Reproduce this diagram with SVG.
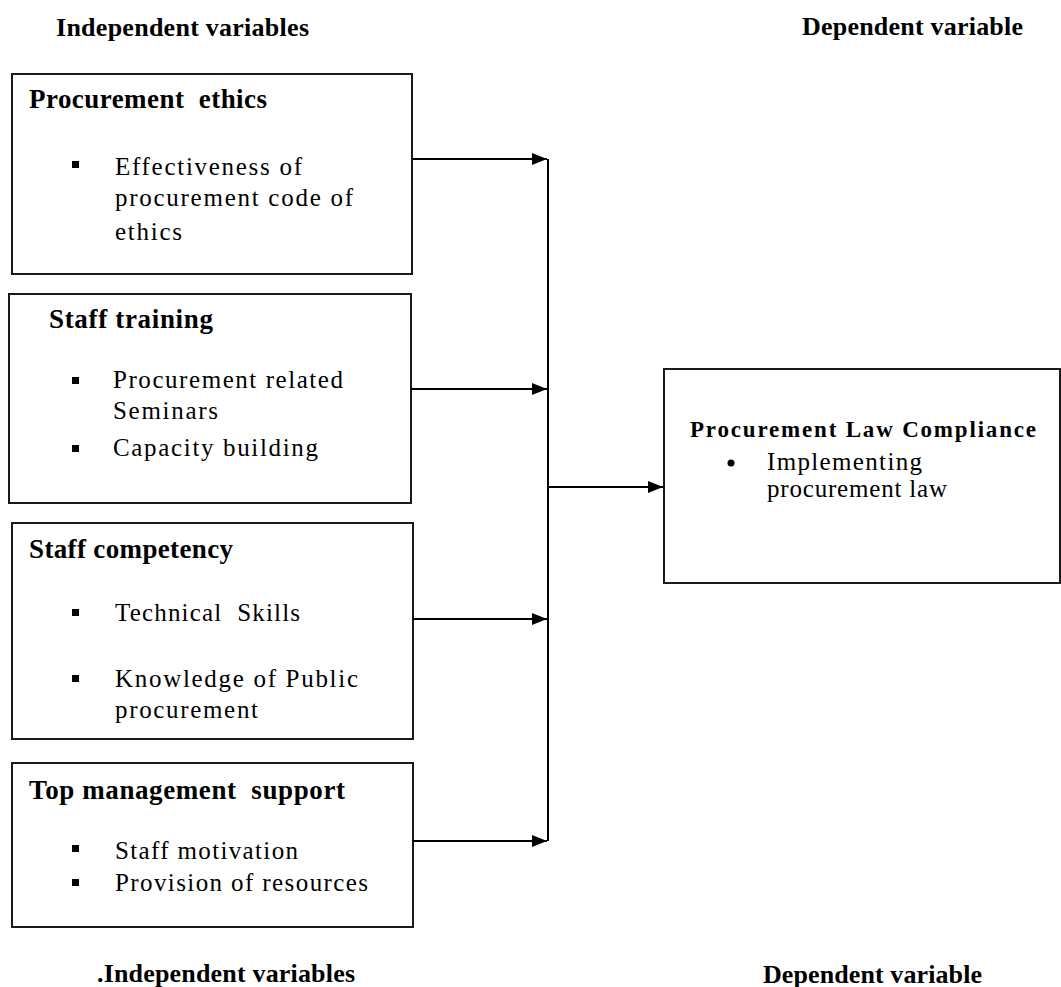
<svg xmlns="http://www.w3.org/2000/svg" width="1061" height="987" viewBox="0 0 1061 987">
<style>
.box{fill:#fff;stroke:#1a1a1a;stroke-width:2}
.hd{font-family:"Liberation Serif","Times New Roman",serif;font-weight:bold;font-size:26px;fill:#000}
.tt{font-family:"Liberation Serif","Times New Roman",serif;font-weight:bold;font-size:27px;fill:#000}
.tx{font-family:"Liberation Serif","Times New Roman",serif;font-size:25px;fill:#000}
.dt{font-family:"Liberation Serif","Times New Roman",serif;font-weight:bold;font-size:23px;fill:#000}
.sq{fill:#000}
.ln{stroke:#000;stroke-width:2;fill:none}
</style>
<defs>
<marker id="ah" markerWidth="15" markerHeight="12" refX="15" refY="6" orient="auto" markerUnits="userSpaceOnUse">
<path d="M0,0 L15,6 L0,12 Z" fill="#000"/>
</marker>
</defs>
<rect width="1061" height="987" fill="#fff"/>
<g id="labels">
<text class="hd" x="56" y="36" textLength="253">Independent variables</text>
<text class="hd" x="802" y="35" textLength="221">Dependent variable</text>
<text class="hd" x="97" y="982" textLength="258">.Independent variables</text>
<text class="hd" x="763" y="983" textLength="219">Dependent variable</text>
</g>
<g id="node-ethics">
<rect class="box" x="12" y="74" width="400" height="200"/>
<text class="tt" x="29" y="108" textLength="238" xml:space="preserve">Procurement  ethics</text>
<rect class="sq" x="72" y="161" width="7" height="7"/>
<text class="tx" x="115" y="175" textLength="187">Effectiveness of</text>
<text class="tx" x="115" y="206" textLength="238">procurement code of</text>
<text class="tx" x="115" y="240" textLength="67">ethics</text>
</g>
<g id="node-training">
<rect class="box" x="9" y="294" width="402" height="209"/>
<text class="tt" x="49" y="328" textLength="164">Staff training</text>
<rect class="sq" x="72" y="377" width="7" height="7"/>
<text class="tx" x="113" y="388" textLength="230">Procurement related</text>
<text class="tx" x="113" y="419" textLength="105">Seminars</text>
<rect class="sq" x="72" y="445" width="7" height="7"/>
<text class="tx" x="113" y="456" textLength="205">Capacity building</text>
</g>
<g id="node-competency">
<rect class="box" x="12" y="523" width="401" height="216"/>
<text class="tt" x="29" y="558" textLength="204">Staff competency</text>
<rect class="sq" x="72" y="609" width="7" height="7"/>
<text class="tx" x="115" y="621" textLength="185" xml:space="preserve">Technical  Skills</text>
<rect class="sq" x="72" y="675" width="7" height="7"/>
<text class="tx" x="115" y="687" textLength="243">Knowledge of Public</text>
<text class="tx" x="115" y="718" textLength="143">procurement</text>
</g>
<g id="node-management">
<rect class="box" x="12" y="763" width="401" height="164"/>
<text class="tt" x="29" y="799" textLength="316" xml:space="preserve">Top management  support</text>
<rect class="sq" x="72" y="845" width="7" height="7"/>
<text class="tx" x="115" y="859" textLength="183">Staff motivation</text>
<rect class="sq" x="72" y="879" width="7" height="7"/>
<text class="tx" x="115" y="891" textLength="253">Provision of resources</text>
</g>
<g id="node-compliance">
<rect class="box" x="664" y="369" width="396" height="214"/>
<text class="dt" x="690" y="437" textLength="346">Procurement Law Compliance</text>
<circle cx="731" cy="463" r="3.5" fill="#000"/>
<text class="tx" x="767" y="470" textLength="155">Implementing</text>
<text class="tx" x="767" y="497" textLength="180">procurement law</text>
</g>
<g id="connectors">
<line class="ln" x1="548" y1="159" x2="548" y2="841"/>
<line class="ln" x1="412" y1="159" x2="547" y2="159" marker-end="url(#ah)"/>
<line class="ln" x1="411" y1="389" x2="547" y2="389" marker-end="url(#ah)"/>
<line class="ln" x1="413" y1="619" x2="547" y2="619" marker-end="url(#ah)"/>
<line class="ln" x1="413" y1="841" x2="547" y2="841" marker-end="url(#ah)"/>
<line class="ln" x1="548" y1="487" x2="663" y2="487" marker-end="url(#ah)"/>
</g>
</svg>
